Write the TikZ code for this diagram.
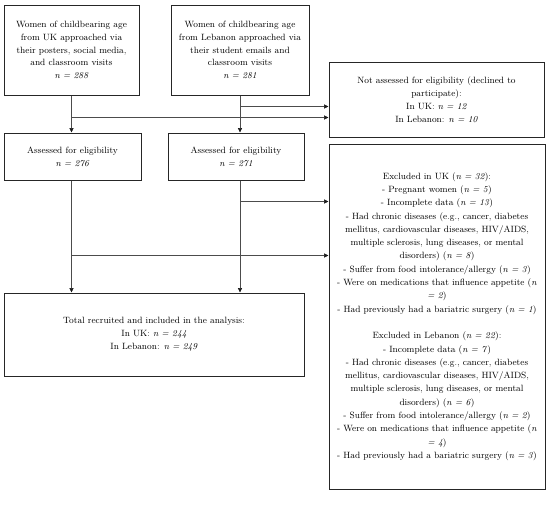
\documentclass[tikz,border=0pt]{standalone}
\usetikzlibrary{arrows.meta,calc}
\begin{document}
\begin{tikzpicture}[x=1pt,y=1pt,
  box/.style={draw=black!85,line width=1pt,align=center,inner sep=0pt,
    font=\fontsize{9.1}{12.8}\selectfont},
  conn/.style={draw=black!70,line width=0.6pt},
  arr/.style={conn,-{Triangle[length=4.5pt,width=4.2pt,color=black!90]}}]
\useasboundingbox (0,0) rectangle (550,-520);
\node[box,minimum width=135pt,minimum height=90pt] (b1) at (71.5,-50)
  {Women of childbearing age\\from UK approached via\\their posters, social media,\\and classroom visits\\\textit{n = 288}};
\node[box,minimum width=138pt,minimum height=90pt] (b2) at (240,-50)
  {Women of childbearing age\\from Lebanon approached via\\their student emails and\\classroom visits\\\textit{n = 281}};
\node[box,minimum width=215pt,minimum height=75pt] (na) at (436.5,-99.5)
  {Not assessed for eligibility (declined to\\participate):\\In UK: \textit{n = 12}\\In Lebanon: \textit{n = 10}};
\node[box,minimum width=137pt,minimum height=47pt] (a1) at (72.5,-156.5)
  {Assessed for eligibility\\\textit{n = 276}};
\node[box,minimum width=136pt,minimum height=47pt] (a2) at (236,-156.5)
  {Assessed for eligibility\\\textit{n = 271}};
\node[box,minimum width=216pt,minimum height=345pt,font=\fontsize{9.1}{13.3}\selectfont] (ex) at (437,-316.5)
  {Excluded in UK (\textit{n = 32}):\\
   - Pregnant women (\textit{n = 5})\\
   - Incomplete data (\textit{n = 13})\\
   - Had chronic diseases (e.g., cancer, diabetes\\
   mellitus, cardiovascular diseases, HIV/AIDS,\\
   multiple sclerosis, lung diseases, or mental\\
   disorders) (\textit{n = 8})\\
   - Suffer from food intolerance/allergy (\textit{n = 3})\\
   - Were on medications that influence appetite (\textit{n}\\
   \textit{= 2})\\
   - Had previously had a bariatric surgery (\textit{n = 1})\\[13.3pt]
   Excluded in Lebanon (\textit{n = 22}):\\
   - Incomplete data (\textit{n = 7})\\
   - Had chronic diseases (e.g., cancer, diabetes\\
   mellitus, cardiovascular diseases, HIV/AIDS,\\
   multiple sclerosis, lung diseases, or mental\\
   disorders) (\textit{n = 6})\\
   - Suffer from food intolerance/allergy (\textit{n = 2})\\
   - Were on medications that influence appetite (\textit{n}\\
   \textit{= 4})\\
   - Had previously had a bariatric surgery (\textit{n = 3})};
\node[box,minimum width=300pt,minimum height=83pt] (tot) at (154,-334.5)
  {Total recruited and included in the analysis:\\In UK: \textit{n = 244}\\In Lebanon: \textit{n = 249}};
% junctions
\coordinate (j1) at ($(b1.south)+(0,-22)$);
\coordinate (j2) at ($(b2.south)+(0,-11)$);
\coordinate (j3) at ($(a1.south)+(0,-75)$);
\coordinate (j4) at ($(a2.south)+(0,-21)$);
\draw[arr] (b1.south) -- (b1.south |- a1.north);
\draw[arr] (b2.south) -- (b2.south |- a2.north);
\draw[arr] (j1) -- (j1 -| na.west);
\draw[arr] (j2) -- (j2 -| na.west);
\draw[arr] (b1.south |- a1.south) -- (b1.south |- tot.north);
\draw[arr] (b2.south |- a2.south) -- (b2.south |- tot.north);
\draw[arr] (b1.south |- j3) -- (j3 -| ex.west);
\draw[arr] (b2.south |- j4) -- (j4 -| ex.west);
\end{tikzpicture}
\end{document}
